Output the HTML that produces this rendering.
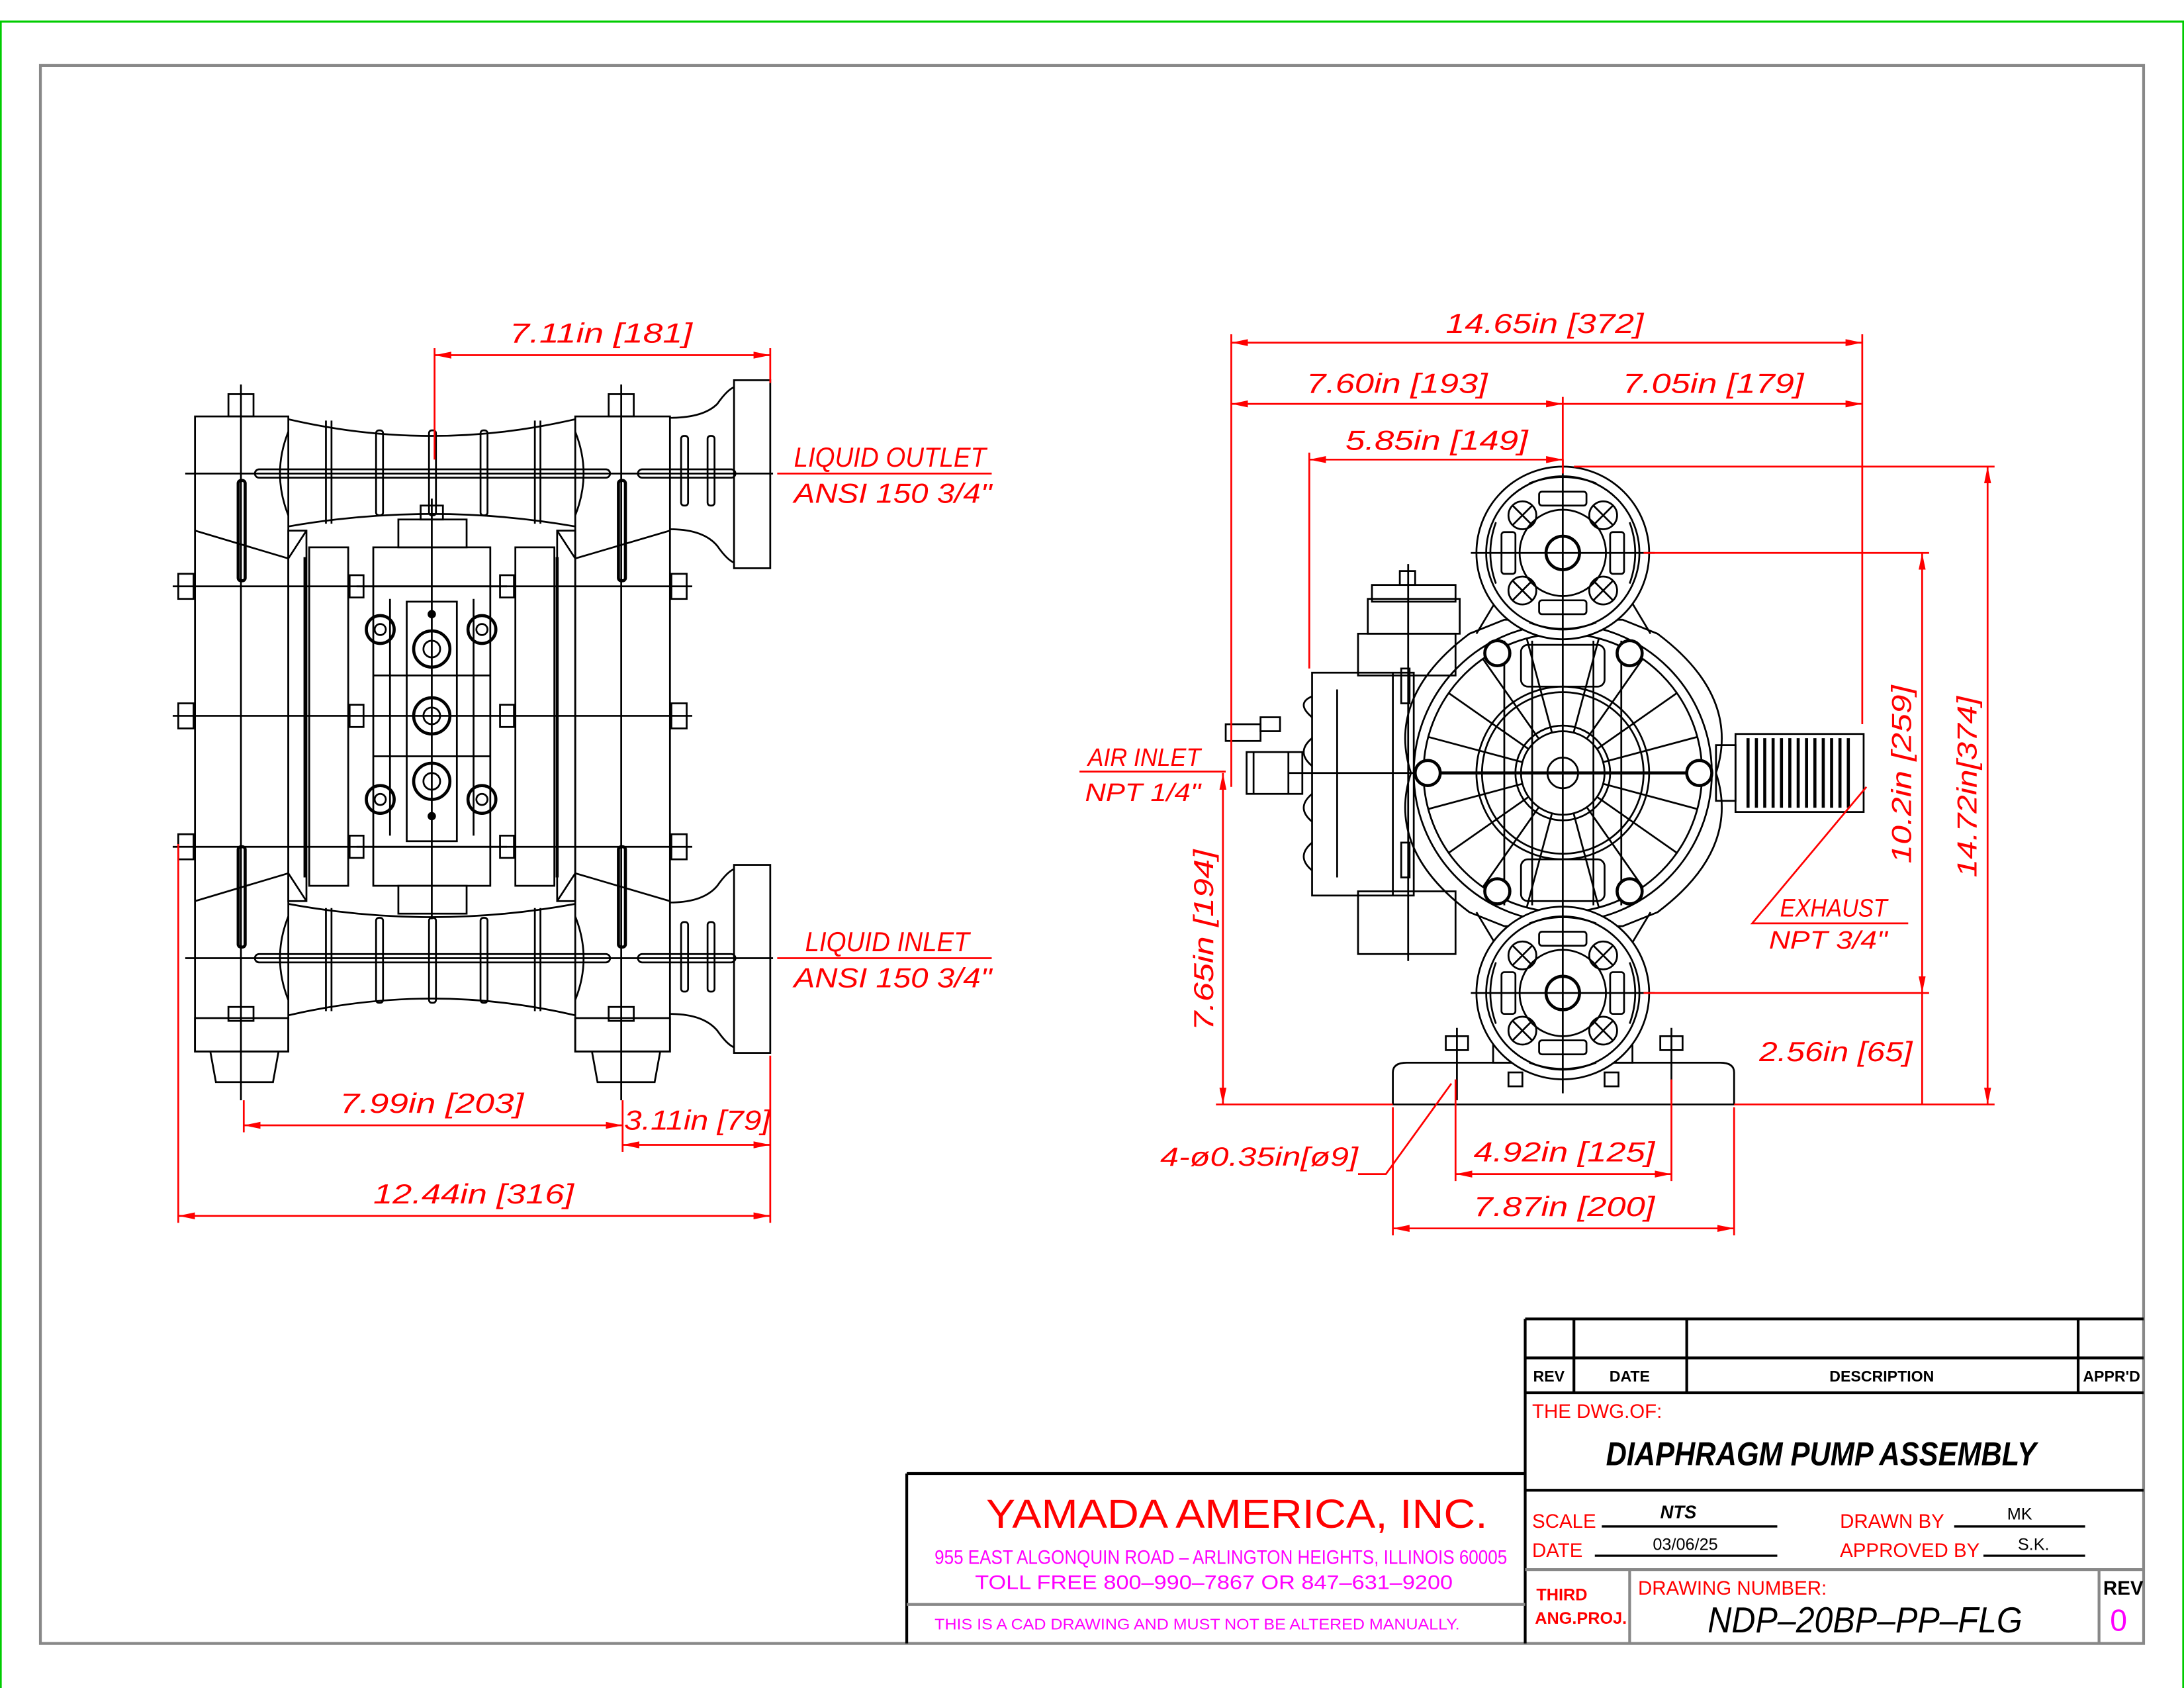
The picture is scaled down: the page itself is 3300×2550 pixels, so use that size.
<!DOCTYPE html>
<html><head><meta charset="utf-8"><style>
html,body{margin:0;padding:0;background:#fff;}
svg{display:block;}
.k{fill:none;stroke:#000;stroke-width:1.3}
.kt{fill:none;stroke:#000;stroke-width:2.2}
.r{fill:none;stroke:#f00;stroke-width:1.3}
.d{font-family:"Liberation Sans",sans-serif;font-style:italic;fill:#f00;font-size:20px}
.t{font-family:"Liberation Sans",sans-serif;font-weight:bold;font-size:12px}
</style></head><body>
<svg width="3300" height="2550" viewBox="0 0 1568 1212" preserveAspectRatio="none" xmlns="http://www.w3.org/2000/svg">
<defs>
<marker id="a" viewBox="0 0 12 6" refX="12" refY="3" markerWidth="12" markerHeight="6" orient="auto-start-reverse" markerUnits="userSpaceOnUse"><path d="M0,0.5 L12,3 L0,5.5z" fill="#f00"/></marker>
</defs>
<rect x="0" y="0" width="1568" height="1212" fill="#fff"/>
<path d="M0.5,1212 V15.5 H1567.5 V1212" fill="none" stroke="#0c0" stroke-width="1.5"/>
<rect x="29" y="47" width="1510" height="1133" fill="none" stroke="#888" stroke-width="2"/>

<!-- LEFT VIEW -->
<g>
<rect class="k" x="140" y="299" width="67" height="456"/>
<rect class="k" x="413" y="299" width="68" height="456"/>
<path class="k" d="M207,301 Q310,325 413,301 M207,378 Q310,360 413,378 M207,649 Q310,668 413,649 M207,729 Q310,705 413,729"/>
<path class="k" d="M207,310 Q195,340 207,370 M413,310 Q425,340 413,370 M207,658 Q195,688 207,718 M413,658 Q425,688 413,718"/>
<line class="k" x1="133" y1="340" x2="555" y2="340"/><line class="k" x1="133" y1="688" x2="555" y2="688"/>
<rect class="k" x="183" y="337" width="255" height="6" rx="3"/><rect class="k" x="458" y="337" width="70" height="6" rx="3"/>
<rect class="k" x="183" y="685" width="255" height="6" rx="3"/><rect class="k" x="458" y="685" width="70" height="6" rx="3"/>
<g class="k">
<line x1="234" y1="302" x2="234" y2="376"/><line x1="238" y1="302" x2="238" y2="376"/>
<rect x="270" y="309" width="5" height="61" rx="2"/><rect x="308" y="309" width="5" height="61" rx="2"/><rect x="345" y="309" width="5" height="61" rx="2"/>
<line x1="384" y1="302" x2="384" y2="376"/><line x1="388" y1="302" x2="388" y2="376"/>
<line x1="234" y1="652" x2="234" y2="726"/><line x1="238" y1="652" x2="238" y2="726"/>
<rect x="270" y="659" width="5" height="61" rx="2"/><rect x="308" y="659" width="5" height="61" rx="2"/><rect x="345" y="659" width="5" height="61" rx="2"/>
<line x1="384" y1="652" x2="384" y2="726"/><line x1="388" y1="652" x2="388" y2="726"/>
</g>
<rect class="k" x="527" y="273" width="26" height="135"/><rect class="k" x="527" y="621" width="26" height="135"/>
<path class="k" d="M481,300 Q505,300 515,290 Q522,280 527,278 M481,380 Q505,380 515,392 Q522,402 527,404 M481,648 Q505,648 515,636 Q522,626 527,624 M481,728 Q505,728 515,740 Q522,750 527,752"/>
<rect class="k" x="489" y="313" width="5" height="50" rx="2"/><rect x="508" y="313" width="5" height="50" rx="2" class="k"/>
<rect class="k" x="489" y="662" width="5" height="50" rx="2"/><rect x="508" y="662" width="5" height="50" rx="2" class="k"/>
<path class="k" d="M151,755 L155,777 H196 L200,755 M425,755 L429,777 H470 L474,755"/>
<rect class="k" x="140" y="731" width="67" height="24"/><rect class="k" x="413" y="731" width="68" height="24"/>
<g class="k"><rect x="164" y="283" width="18" height="16"/><rect x="437" y="283" width="18" height="16"/><rect x="164" y="723" width="18" height="10"/><rect x="437" y="723" width="18" height="10"/></g>
<line class="k" x1="173" y1="276" x2="173" y2="790"/><line class="k" x1="446" y1="276" x2="446" y2="790"/>
<path class="k" d="M140,381 L207,401 L220,381 M140,647 L207,627 L220,647 M481,381 L413,401 L400,381 M481,647 L413,627 L400,647"/>
<rect class="k" x="207" y="381" width="13" height="266"/><rect class="k" x="400" y="381" width="13" height="266"/>
<rect class="kt" x="171" y="345" width="5" height="72" rx="2"/><rect class="kt" x="171" y="608" width="5" height="72" rx="2"/>
<rect class="kt" x="444" y="345" width="5" height="72" rx="2"/><rect class="kt" x="444" y="608" width="5" height="72" rx="2"/>
<rect class="k" x="222" y="393" width="28" height="243"/><rect class="k" x="370" y="393" width="28" height="243"/>
<line class="kt" x1="219" y1="400" x2="219" y2="630"/><line class="kt" x1="400" y1="400" x2="400" y2="630"/>
<rect class="k" x="268" y="393" width="84" height="243"/>
<rect class="k" x="286" y="373" width="49" height="20"/><rect class="k" x="286" y="636" width="49" height="20"/>
<rect class="k" x="302" y="363" width="16" height="10"/>
<rect class="k" x="292" y="432" width="36" height="172"/>
<line class="k" x1="256" y1="421" x2="364" y2="421"/><line class="k" x1="256" y1="608" x2="364" y2="608"/>
<g class="k">
<line x1="268" y1="485" x2="352" y2="485"/><line x1="268" y1="543" x2="352" y2="543"/>
<line x1="280" y1="430" x2="280" y2="600"/><line x1="340" y1="430" x2="340" y2="600"/>
</g>
<g class="kt">
<circle cx="273" cy="452" r="10"/><circle cx="346" cy="452" r="10"/><circle cx="273" cy="574" r="10"/><circle cx="346" cy="574" r="10"/>
<circle cx="310" cy="466" r="13"/><circle cx="310" cy="514" r="13"/><circle cx="310" cy="561" r="13"/>
</g>
<g class="k"><circle cx="273" cy="452" r="4"/><circle cx="346" cy="452" r="4"/><circle cx="273" cy="574" r="4"/><circle cx="346" cy="574" r="4"/><circle cx="310" cy="466" r="6"/><circle cx="310" cy="514" r="6"/><circle cx="310" cy="561" r="6"/></g>
<circle cx="310" cy="441" r="3" fill="#000"/><circle cx="310" cy="586" r="3" fill="#000"/>
<line class="k" x1="310" y1="358" x2="310" y2="660"/>
<g class="k">
<line x1="124" y1="421" x2="497" y2="421"/><line x1="124" y1="514" x2="497" y2="514"/><line x1="124" y1="608" x2="497" y2="608"/>
<rect x="128" y="412" width="11" height="18"/><rect x="128" y="505" width="11" height="18"/><rect x="128" y="599" width="11" height="18"/>
<rect x="482" y="412" width="11" height="18"/><rect x="482" y="505" width="11" height="18"/><rect x="482" y="599" width="11" height="18"/>
<rect x="251" y="413" width="10" height="16"/><rect x="251" y="506" width="10" height="16"/><rect x="251" y="600" width="10" height="16"/>
<rect x="359" y="413" width="10" height="16"/><rect x="359" y="506" width="10" height="16"/><rect x="359" y="600" width="10" height="16"/>
</g>
</g>

<!-- RIGHT VIEW -->
<g>
<path class="k" d="M1000,793 V770 Q1000,763 1010,763 H1235 Q1245,763 1245,770 V793 Z"/>
<rect class="k" x="1072" y="750" width="100" height="13"/>
<g class="k"><rect x="1038" y="744" width="16" height="10"/><rect x="1192" y="744" width="16" height="10"/><rect x="1083" y="770" width="10" height="10"/><rect x="1152" y="770" width="10" height="10"/></g>
<line class="k" x1="1046" y1="738" x2="1046" y2="790"/><line class="k" x1="1200" y1="738" x2="1200" y2="790"/>
<g class="k">
<rect x="982" y="430" width="66" height="25"/><rect x="985" y="420" width="60" height="12"/>
<rect x="1005" y="410" width="11" height="10"/>
<rect x="975" y="455" width="70" height="30"/>
<rect x="942" y="483" width="73" height="160"/>
<rect x="975" y="640" width="70" height="45"/>
<path d="M942,530 Q930,540 942,550 M942,570 Q930,580 942,590 M942,500 Q930,505 942,515 M942,605 Q930,615 942,625"/>
<line x1="960" y1="495" x2="960" y2="630"/><line x1="1000" y1="483" x2="1000" y2="643"/>
<line x1="925" y1="555" x2="1020" y2="555"/>
<rect x="1006" y="480" width="6" height="25"/><rect x="1006" y="605" width="6" height="25"/>
</g>
<line class="k" x1="1011" y1="405" x2="1011" y2="690"/>
<g class="k"><rect x="895" y="540" width="40" height="30"/><rect x="880" y="520" width="25" height="12"/><rect x="905" y="515" width="14" height="10"/><line x1="900" y1="540" x2="900" y2="570"/><line x1="925" y1="540" x2="925" y2="570"/></g>
<path class="k" d="M1055,455 L1080,445 L1165,445 L1190,455 Q1250,500 1232,555 Q1250,610 1190,655 L1165,665 L1080,665 L1055,655 Q995,610 1013,555 Q995,500 1055,455Z"/>
<path class="k" d="M1060,455 L1075,430 M1185,455 L1170,430 M1060,655 L1075,680 M1185,655 L1170,680"/>
<circle class="k" cx="1122" cy="555" r="107"/><circle class="k" cx="1122" cy="555" r="100"/>
<circle class="k" cx="1122" cy="555" r="62"/><circle class="k" cx="1122" cy="555" r="58"/>
<circle class="k" cx="1122" cy="555" r="34"/><circle class="k" cx="1122" cy="555" r="30"/>
<circle class="k" cx="1122" cy="555" r="11"/>
<g class="k" stroke-width="1.1">
<line x1="1060" y1="555" x2="1184" y2="555"/>
<g>
<line x1="1152" y1="555" x2="1222" y2="555" transform="rotate(15 1122 555)"/><line x1="1152" y1="555" x2="1222" y2="555" transform="rotate(35 1122 555)"/><line x1="1152" y1="555" x2="1222" y2="555" transform="rotate(55 1122 555)"/><line x1="1152" y1="555" x2="1222" y2="555" transform="rotate(75 1122 555)"/>
<line x1="1152" y1="555" x2="1222" y2="555" transform="rotate(105 1122 555)"/><line x1="1152" y1="555" x2="1222" y2="555" transform="rotate(125 1122 555)"/><line x1="1152" y1="555" x2="1222" y2="555" transform="rotate(145 1122 555)"/><line x1="1152" y1="555" x2="1222" y2="555" transform="rotate(165 1122 555)"/>
<line x1="1152" y1="555" x2="1222" y2="555" transform="rotate(195 1122 555)"/><line x1="1152" y1="555" x2="1222" y2="555" transform="rotate(215 1122 555)"/><line x1="1152" y1="555" x2="1222" y2="555" transform="rotate(235 1122 555)"/><line x1="1152" y1="555" x2="1222" y2="555" transform="rotate(255 1122 555)"/>
<line x1="1152" y1="555" x2="1222" y2="555" transform="rotate(285 1122 555)"/><line x1="1152" y1="555" x2="1222" y2="555" transform="rotate(305 1122 555)"/><line x1="1152" y1="555" x2="1222" y2="555" transform="rotate(325 1122 555)"/><line x1="1152" y1="555" x2="1222" y2="555" transform="rotate(345 1122 555)"/>
</g>
<line x1="1080" y1="460" x2="1080" y2="650"/><line x1="1164" y1="460" x2="1164" y2="650"/>
<line x1="1100" y1="460" x2="1100" y2="650"/><line x1="1144" y1="460" x2="1144" y2="650"/>
<rect x="1092" y="463" width="60" height="30" rx="5"/><rect x="1092" y="617" width="60" height="30" rx="5"/>
</g>
<line class="kt" x1="1020" y1="555" x2="1224" y2="555"/>
<g class="kt">
<circle cx="1075" cy="469" r="9" fill="#fff"/><circle cx="1170" cy="469" r="9" fill="#fff"/><circle cx="1075" cy="640" r="9" fill="#fff"/><circle cx="1170" cy="640" r="9" fill="#fff"/><circle cx="1025" cy="555" r="9" fill="#fff"/><circle cx="1220" cy="555" r="9" fill="#fff"/>
</g>
<g id="cv">
<circle cx="1122" cy="397" r="62" fill="#fff" stroke="#000" stroke-width="1.3"/>
<circle class="k" cx="1122" cy="397" r="55"/>
<circle class="k" cx="1122" cy="397" r="31"/>
<circle class="kt" cx="1122" cy="397" r="12"/>
<g class="k">
<circle cx="1093" cy="370" r="10"/><circle cx="1151" cy="370" r="10"/><circle cx="1093" cy="424" r="10"/><circle cx="1151" cy="424" r="10"/>
<path d="M1086,363 l14,14 M1100,363 l-14,14 M1144,363 l14,14 M1158,363 l-14,14 M1086,417 l14,14 M1100,417 l-14,14 M1144,417 l14,14 M1158,417 l-14,14"/>
<rect x="1105" y="353" width="34" height="10" rx="2"/><rect x="1105" y="431" width="34" height="10" rx="2"/>
<rect x="1078" y="382" width="10" height="30" rx="2"/><rect x="1156" y="382" width="10" height="30" rx="2"/>
<path d="M1098,347 Q1122,338 1146,347 M1098,447 Q1122,456 1146,447 M1074,375 Q1066,397 1074,419 M1170,375 Q1178,397 1170,419"/>
</g>
<line class="k" x1="1056" y1="397" x2="1188" y2="397"/>
</g>
<use href="#cv" transform="translate(0,316)"/>
<line class="k" x1="1122" y1="330" x2="1122" y2="785"/>
<rect class="k" x="1232" y="535" width="14" height="40"/>
<rect class="k" x="1246" y="527" width="92" height="56"/>
<g stroke="#000" stroke-width="2.2">
<line x1="1255" y1="530" x2="1255" y2="580"/><line x1="1261" y1="530" x2="1261" y2="580"/><line x1="1267" y1="530" x2="1267" y2="580"/><line x1="1273" y1="530" x2="1273" y2="580"/><line x1="1279" y1="530" x2="1279" y2="580"/><line x1="1285" y1="530" x2="1285" y2="580"/><line x1="1291" y1="530" x2="1291" y2="580"/><line x1="1297" y1="530" x2="1297" y2="580"/><line x1="1303" y1="530" x2="1303" y2="580"/><line x1="1309" y1="530" x2="1309" y2="580"/><line x1="1315" y1="530" x2="1315" y2="580"/><line x1="1321" y1="530" x2="1321" y2="580"/><line x1="1327" y1="530" x2="1327" y2="580"/>
</g>
</g>

<!-- LEFT DIMENSIONS -->
<g class="r">
<line x1="312" y1="255" x2="553" y2="255" marker-start="url(#a)" marker-end="url(#a)"/>
<line x1="312" y1="250" x2="312" y2="330"/><line x1="553" y1="250" x2="553" y2="275"/>
<line x1="558" y1="340" x2="712" y2="340"/><line x1="558" y1="688" x2="712" y2="688"/>
<line x1="175" y1="808" x2="447" y2="808" marker-start="url(#a)" marker-end="url(#a)"/>
<line x1="447" y1="822" x2="553" y2="822" marker-start="url(#a)" marker-end="url(#a)"/>
<line x1="128" y1="873" x2="553" y2="873" marker-start="url(#a)" marker-end="url(#a)"/>
<line x1="128" y1="606" x2="128" y2="878"/><line x1="553" y1="758" x2="553" y2="878"/>
<line x1="175" y1="790" x2="175" y2="813"/><line x1="447" y1="790" x2="447" y2="827"/>
</g>
<g class="d" lengthAdjust="spacingAndGlyphs">
<text x="366" y="246" textLength="131" lengthAdjust="spacingAndGlyphs">7.11in [181]</text>
<text x="570" y="335" textLength="138" lengthAdjust="spacingAndGlyphs">LIQUID OUTLET</text>
<text x="570" y="361" textLength="142" lengthAdjust="spacingAndGlyphs">ANSI 150 3/4"</text>
<text x="578" y="683" textLength="118" lengthAdjust="spacingAndGlyphs">LIQUID INLET</text>
<text x="570" y="709" textLength="142" lengthAdjust="spacingAndGlyphs">ANSI 150 3/4"</text>
<text x="244" y="799" textLength="132" lengthAdjust="spacingAndGlyphs">7.99in [203]</text>
<text x="448" y="811" textLength="105" lengthAdjust="spacingAndGlyphs">3.11in [79]</text>
<text x="268" y="864" textLength="144" lengthAdjust="spacingAndGlyphs">12.44in [316]</text>
</g>

<!-- RIGHT DIMENSIONS -->
<g class="r">
<line x1="884" y1="246" x2="1337" y2="246" marker-start="url(#a)" marker-end="url(#a)"/>
<line x1="884" y1="290" x2="1122" y2="290" marker-start="url(#a)" marker-end="url(#a)"/>
<line x1="1122" y1="290" x2="1337" y2="290" marker-end="url(#a)"/>
<line x1="940" y1="330" x2="1122" y2="330" marker-start="url(#a)" marker-end="url(#a)"/>
<line x1="884" y1="240" x2="884" y2="565"/><line x1="1337" y1="240" x2="1337" y2="520"/>
<line x1="940" y1="325" x2="940" y2="480"/><line x1="1122" y1="285" x2="1122" y2="340"/>
<line x1="1427" y1="335" x2="1427" y2="793" marker-start="url(#a)" marker-end="url(#a)"/>
<line x1="1130" y1="335" x2="1432" y2="335"/><line x1="1245" y1="793" x2="1432" y2="793"/>
<line x1="1380" y1="397" x2="1380" y2="713" marker-start="url(#a)" marker-end="url(#a)"/>
<line x1="1180" y1="397" x2="1385" y2="397"/><line x1="1180" y1="713" x2="1385" y2="713"/>
<line x1="1380" y1="713" x2="1380" y2="793"/>
<line x1="878" y1="555" x2="878" y2="793" marker-start="url(#a)" marker-end="url(#a)"/>
<line x1="873" y1="793" x2="1000" y2="793"/>
<path d="M1340,565 L1258,663 H1370"/>
<line x1="775" y1="554" x2="880" y2="554"/>
<path d="M975,843 H995 L1042,778"/>
<line x1="1045" y1="843" x2="1200" y2="843" marker-start="url(#a)" marker-end="url(#a)"/>
<line x1="1045" y1="775" x2="1045" y2="848"/><line x1="1200" y1="775" x2="1200" y2="848"/>
<line x1="1000" y1="882" x2="1245" y2="882" marker-start="url(#a)" marker-end="url(#a)"/>
<line x1="1000" y1="795" x2="1000" y2="887"/><line x1="1245" y1="795" x2="1245" y2="887"/>
</g>
<g class="d">
<text x="1038" y="239" textLength="142" lengthAdjust="spacingAndGlyphs">14.65in [372]</text>
<text x="938" y="282" textLength="130" lengthAdjust="spacingAndGlyphs">7.60in [193]</text>
<text x="1165" y="282" textLength="130" lengthAdjust="spacingAndGlyphs">7.05in [179]</text>
<text x="966" y="323" textLength="131" lengthAdjust="spacingAndGlyphs">5.85in [149]</text>
<text transform="translate(1419,630) rotate(-90)" textLength="130" lengthAdjust="spacingAndGlyphs">14.72in[374]</text>
<text transform="translate(1372,620) rotate(-90)" textLength="128" lengthAdjust="spacingAndGlyphs">10.2in [259]</text>
<text transform="translate(871,740) rotate(-90)" textLength="130" lengthAdjust="spacingAndGlyphs">7.65in [194]</text>
<text x="1263" y="762" textLength="110" lengthAdjust="spacingAndGlyphs">2.56in [65]</text>
<text x="1278" y="658" font-size="18" textLength="77" lengthAdjust="spacingAndGlyphs">EXHAUST</text>
<text x="1270" y="681" font-size="18" textLength="85" lengthAdjust="spacingAndGlyphs">NPT 3/4"</text>
<text x="781" y="550" font-size="18" textLength="81" lengthAdjust="spacingAndGlyphs">AIR INLET</text>
<text x="779" y="575" font-size="18" textLength="83" lengthAdjust="spacingAndGlyphs">NPT 1/4"</text>
<text x="833" y="837" font-size="19" textLength="142" lengthAdjust="spacingAndGlyphs">4-ø0.35in[ø9]</text>
<text x="1058" y="834" textLength="130" lengthAdjust="spacingAndGlyphs">4.92in [125]</text>
<text x="1058" y="873" textLength="130" lengthAdjust="spacingAndGlyphs">7.87in [200]</text>
</g>

<!-- TITLE BLOCK -->
<g stroke="#000" stroke-width="2" fill="none">
<path d="M1095,947 H1539 M1095,975 H1539 M1095,1000 H1539 M1095,1070 H1539"/>
<path d="M1095,947 V1180 M1130,947 V1000 M1211,947 V1000 M1492,947 V1000"/>
<path d="M651,1058 H1095 M651,1058 V1180"/>
</g>
<g stroke="#888" stroke-width="2" fill="none">
<path d="M1095,1127 H1539 M1170,1127 V1180 M1507,1127 V1180 M651,1152 H1095"/>
</g>
<g stroke="#000" stroke-width="1.6"><path d="M1150,1096 H1276 M1145,1117 H1276 M1403,1096 H1497 M1424,1117 H1497"/></g>
<g class="t">
<text x="1112" y="992" text-anchor="middle" font-size="11">REV</text>
<text x="1170" y="992" text-anchor="middle" font-size="11">DATE</text>
<text x="1351" y="992" text-anchor="middle" font-size="11">DESCRIPTION</text>
<text x="1516" y="992" text-anchor="middle" font-size="11">APPR'D</text>
<text x="1100" y="1018" fill="#f00" font-weight="normal" font-size="14">THE  DWG.OF:</text>
<text x="1153" y="1052" font-size="24" font-style="italic" textLength="309" lengthAdjust="spacingAndGlyphs">DIAPHRAGM PUMP ASSEMBLY</text>
<text x="1100" y="1097" fill="#f00" font-weight="normal" font-size="14">SCALE</text>
<text x="1205" y="1090" text-anchor="middle" font-style="italic" font-size="13">NTS</text>
<text x="1100" y="1118" fill="#f00" font-weight="normal" font-size="14">DATE</text>
<text x="1210" y="1113" text-anchor="middle" font-weight="normal" font-size="12">03/06/25</text>
<text x="1321" y="1097" fill="#f00" font-weight="normal" font-size="14">DRAWN  BY</text>
<text x="1450" y="1091" text-anchor="middle" font-weight="normal" font-size="12">MK</text>
<text x="1321" y="1118" fill="#f00" font-weight="normal" font-size="14">APPROVED  BY</text>
<text x="1460" y="1113" text-anchor="middle" font-weight="normal" font-size="12">S.K.</text>
<text x="1103" y="1149" fill="#f00" font-size="12">THIRD</text>
<text x="1102" y="1166" fill="#f00" font-size="12">ANG.PROJ.</text>
<text x="1176" y="1145" fill="#f00" font-weight="normal" font-size="14">DRAWING  NUMBER:</text>
<text x="1226" y="1172" font-weight="normal" font-style="italic" font-size="26" textLength="226" lengthAdjust="spacingAndGlyphs">NDP–20BP–PP–FLG</text>
<text x="1510" y="1145" font-size="14">REV</text>
<text x="1521" y="1171" text-anchor="middle" font-weight="normal" font-size="22" fill="#f0f">0</text>
</g>
<g font-family="Liberation Sans, sans-serif">
<text x="708" y="1097" fill="#f00" font-size="29" textLength="360" lengthAdjust="spacingAndGlyphs">YAMADA  AMERICA,  INC.</text>
<text x="671" y="1123" fill="#f0f" font-size="14" textLength="411" lengthAdjust="spacingAndGlyphs">955 EAST ALGONQUIN ROAD – ARLINGTON HEIGHTS, ILLINOIS 60005</text>
<text x="700" y="1141" fill="#f0f" font-size="14" textLength="343" lengthAdjust="spacingAndGlyphs">TOLL FREE 800–990–7867 OR 847–631–9200</text>
<text x="671" y="1170" fill="#f0f" font-size="11" textLength="377" lengthAdjust="spacingAndGlyphs">THIS IS A CAD DRAWING AND MUST NOT BE ALTERED MANUALLY.</text>
</g>
</svg>
</body></html>
